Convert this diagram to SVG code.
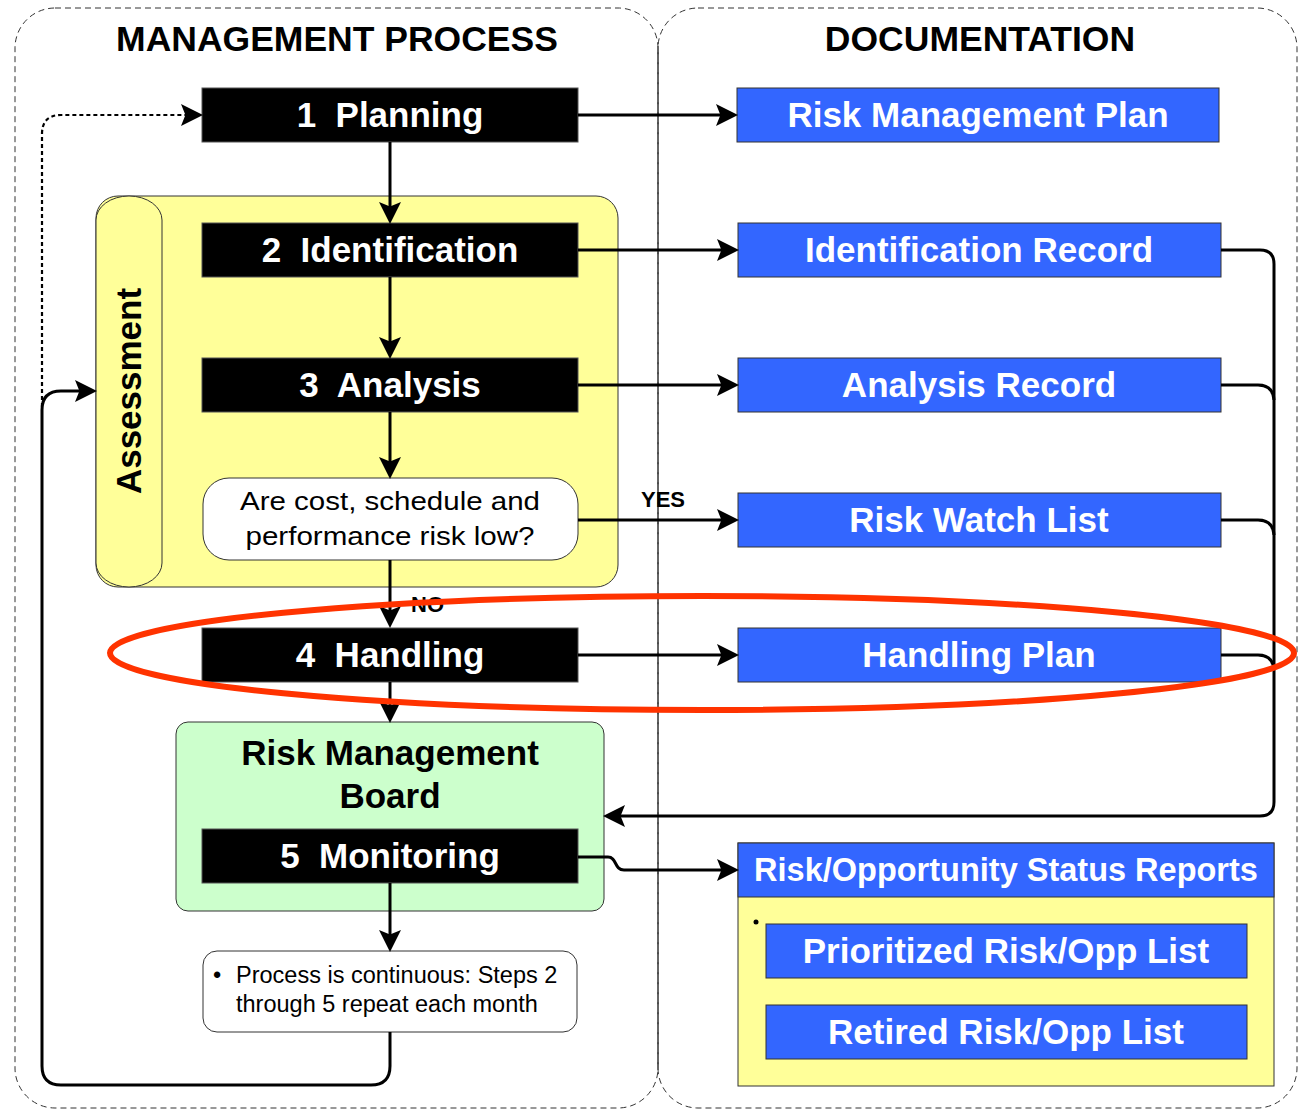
<svg xmlns="http://www.w3.org/2000/svg" width="1299" height="1110" viewBox="0 0 1299 1110">
<defs>
<style>
.cont{fill:none;stroke:#333;stroke-width:1;stroke-dasharray:6,4}
.blk{fill:#000;stroke:#555;stroke-width:1}
.blu{fill:#3366FF;stroke:#333;stroke-width:1}
.wt{fill:#fff;font-family:"Liberation Sans",Arial,sans-serif;font-weight:bold;font-size:35px;text-anchor:middle}
.bt{fill:#000;font-family:"Liberation Sans",Arial,sans-serif;font-weight:bold;font-size:35px;text-anchor:middle}
.rt{fill:#000;font-family:"Liberation Sans",Arial,sans-serif;font-size:23.5px}
.dq{fill:#000;font-family:"Liberation Sans",Arial,sans-serif;font-size:26px;text-anchor:middle}
.lbl{fill:#000;font-family:"Liberation Sans",Arial,sans-serif;font-weight:bold;font-size:22px}
.con{fill:none;stroke:#000;stroke-width:3}
</style>
<marker id="ah" markerUnits="userSpaceOnUse" markerWidth="22" markerHeight="22" viewBox="0 0 20 20" refX="10" refY="10" orient="auto">
<path d="M0,0 L20,10 L0,20 L4,10 z" fill="#000"/>
</marker>
</defs>
<rect width="1299" height="1110" fill="#fff"/>
<g id="containers">
<rect class="cont" x="15" y="8" width="643" height="1100" rx="40"/>
<rect class="cont" x="658" y="8" width="639" height="1100" rx="40"/>
<line x1="658" y1="46" x2="658" y2="1070" stroke="#333" stroke-width="1"/>
<text class="bt" x="337" y="51" style="font-size:35.5px">MANAGEMENT PROCESS</text>
<text class="bt" x="980" y="51" style="font-size:35.5px">DOCUMENTATION</text>
</g>
<g id="assessment">
<rect x="96" y="196" width="522" height="391" rx="22" fill="#FFFF99" stroke="#333" stroke-width="1"/>
<rect x="96" y="196" width="66" height="391" rx="33" ry="24" fill="#FFFF99" stroke="#333" stroke-width="1"/>
<text class="bt" transform="translate(141,391) rotate(-90)">Assessment</text>
</g>
<g id="rmb">
<rect x="176" y="722" width="428" height="189" rx="12" fill="#CCFFCC" stroke="#333" stroke-width="1"/>
<text class="bt" x="390" y="765">Risk Management</text>
<text class="bt" x="390" y="808">Board</text>
</g>
<g id="planning"><rect class="blk" x="202" y="88" width="376" height="54"/><text class="wt" x="390" y="127">1&#160; Planning</text></g>
<g id="identification"><rect class="blk" x="202" y="223" width="376" height="54"/><text class="wt" x="390" y="262">2&#160; Identification</text></g>
<g id="analysis"><rect class="blk" x="202" y="358" width="376" height="54"/><text class="wt" x="390" y="397">3&#160; Analysis</text></g>
<g id="decision"><rect x="203" y="478" width="375" height="82" rx="26" fill="#fff" stroke="#333" stroke-width="1"/>
<text class="dq" x="390" y="510" textLength="300" lengthAdjust="spacingAndGlyphs">Are cost, schedule and</text>
<text class="dq" x="390" y="545" textLength="289" lengthAdjust="spacingAndGlyphs">performance risk low?</text></g>
<g id="handling"><rect class="blk" x="202" y="628" width="376" height="54"/><text class="wt" x="390" y="667">4&#160; Handling</text></g>
<g id="monitoring"><rect class="blk" x="202" y="829" width="376" height="54"/><text class="wt" x="390" y="868">5&#160; Monitoring</text></g>
<g id="note"><rect x="203" y="951" width="374" height="81" rx="14" fill="#fff" stroke="#333" stroke-width="1"/>
<text class="rt" x="213" y="983">•</text>
<text class="rt" x="236" y="983">Process is continuous: Steps 2</text>
<text class="rt" x="236" y="1012">through 5 repeat each month</text></g>
<g id="rmp"><rect class="blu" x="737" y="88" width="482" height="54"/><text class="wt" x="978" y="127">Risk Management Plan</text></g>
<g id="idrec"><rect class="blu" x="738" y="223" width="483" height="54"/><text class="wt" x="979" y="262">Identification Record</text></g>
<g id="anrec"><rect class="blu" x="738" y="358" width="483" height="54"/><text class="wt" x="979" y="397">Analysis Record</text></g>
<g id="watch"><rect class="blu" x="738" y="493" width="483" height="54"/><text class="wt" x="979" y="532">Risk Watch List</text></g>
<g id="hplan"><rect class="blu" x="738" y="628" width="483" height="54"/><text class="wt" x="979" y="667">Handling Plan</text></g>
<g id="status">
<rect x="738" y="843" width="536" height="243" fill="#FFFF99" stroke="#333" stroke-width="1"/>
<rect class="blu" x="738" y="843" width="536" height="54"/>
<text class="wt" x="1006" y="881" style="font-size:32.5px">Risk/Opportunity Status Reports</text>
<circle cx="756" cy="922" r="2.5" fill="#000"/>
<rect class="blu" x="766" y="924" width="481" height="54"/>
<text class="wt" x="1006" y="963">Prioritized Risk/Opp List</text>
<rect class="blu" x="766" y="1005" width="481" height="54"/>
<text class="wt" x="1006" y="1044">Retired Risk/Opp List</text>
</g>
<g id="connectors">
<path class="con" d="M390,142 V213" marker-end="url(#ah)"/>
<path class="con" d="M390,277 V348" marker-end="url(#ah)"/>
<path class="con" d="M390,412 V468" marker-end="url(#ah)"/>
<path class="con" d="M390,560 V617" marker-end="url(#ah)"/>
<path class="con" d="M390,682 V712" marker-end="url(#ah)"/>
<path class="con" d="M390,883 V941" marker-end="url(#ah)"/>
<path class="con" d="M578,115 H727" marker-end="url(#ah)"/>
<path class="con" d="M578,250 H728" marker-end="url(#ah)"/>
<path class="con" d="M578,385 H728" marker-end="url(#ah)"/>
<path class="con" d="M578,520 H728" marker-end="url(#ah)"/>
<path class="con" d="M578,655 H728" marker-end="url(#ah)"/>
<path class="con" d="M578,857 H608 C617,857 614,870 624,870 H728" marker-end="url(#ah)"/>
<path class="con" d="M1221,250 H1260 Q1274,250 1274,264 V802 Q1274,816 1260,816 H614" marker-end="url(#ah)"/>
<path class="con" d="M1221,385 H1258 Q1273,385 1274,400"/>
<path class="con" d="M1221,520 H1258 Q1273,520 1274,535"/>
<path class="con" d="M1221,655 H1258 Q1273,655 1274,670"/>
<path class="con" d="M390,1032 V1066 Q390,1085 371,1085 H61 Q42,1085 42,1066 V410 Q42,391 61,391 H86" marker-end="url(#ah)"/>
<path d="M42,407 V134 Q42,115 61,115 H192" fill="none" stroke="#000" stroke-width="2.2" stroke-dasharray="4,3" marker-end="url(#ah)"/>
<text class="lbl" x="663" y="507" text-anchor="middle">YES</text>
<text class="lbl" x="411" y="612">NO</text>
</g>
<ellipse id="highlight" cx="702" cy="653" rx="592" ry="57" fill="none" stroke="#FF3300" stroke-width="6"/>
</svg>
